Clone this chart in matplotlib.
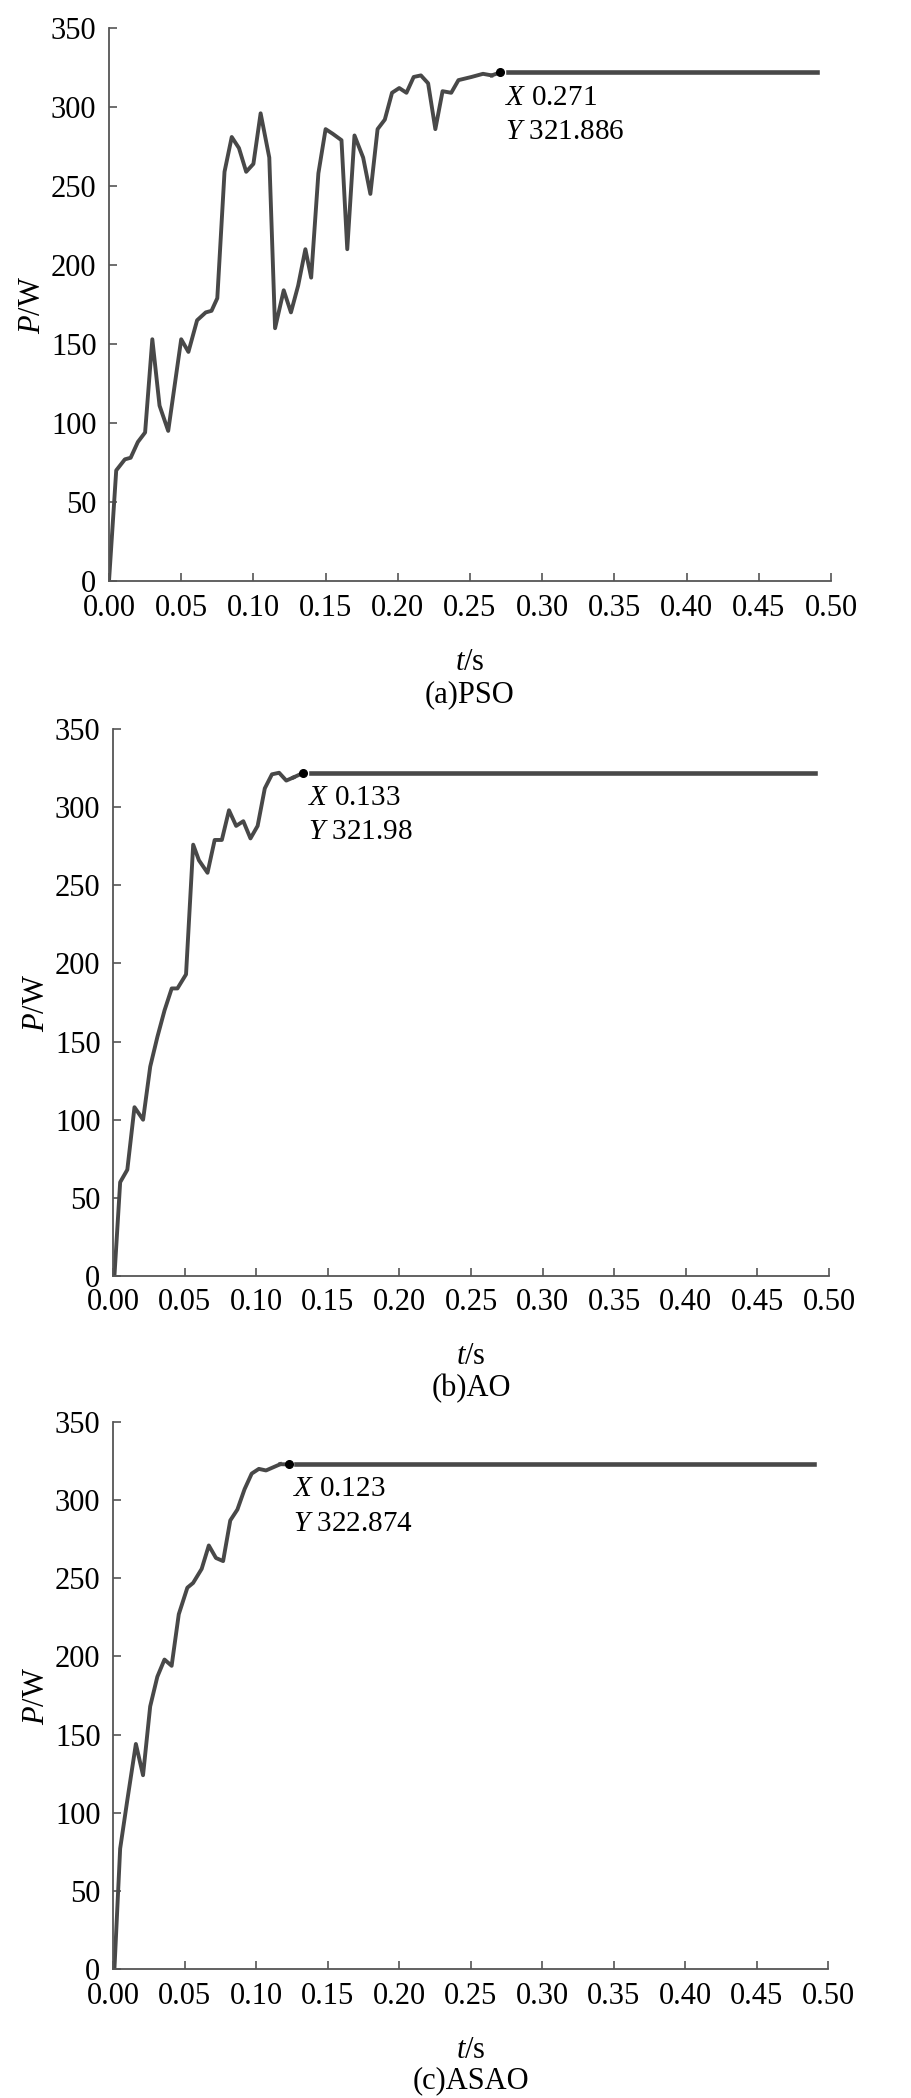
import numpy as np
import matplotlib
matplotlib.use("Agg")
import matplotlib.pyplot as plt

plt.rcParams["font.family"] = "Liberation Serif"
plt.rcParams["mathtext.fontset"] = "custom"
plt.rcParams["mathtext.rm"] = "Liberation Serif"
plt.rcParams["mathtext.it"] = "Liberation Serif:italic"

# PSO
pso_t = [0.0, 0.005, 0.011, 0.015, 0.020, 0.025, 0.030, 0.035, 0.041, 0.050,
         0.055, 0.061, 0.067, 0.071, 0.075, 0.080, 0.085, 0.090, 0.095, 0.100,
         0.105, 0.111, 0.115, 0.121, 0.126, 0.131, 0.136, 0.140, 0.145, 0.150,
         0.155, 0.161, 0.165, 0.170, 0.176, 0.181, 0.186, 0.191, 0.196, 0.201,
         0.206, 0.211, 0.216, 0.221, 0.226, 0.231, 0.237, 0.242, 0.251, 0.259,
         0.265]
pso_p = [0, 70, 77, 78, 88, 94, 153, 111, 95, 153,
         145, 165, 170, 171, 179, 259, 281, 274, 259, 264,
         296, 268, 160, 184, 170, 187, 210, 192, 258, 286,
         283, 279, 210, 282, 268, 245, 286, 292, 309, 312,
         309, 319, 320, 315, 286, 310, 309, 317, 319, 321,
         320]

# AO
ao_t = [0.0, 0.001, 0.005, 0.010, 0.015, 0.021, 0.026, 0.031, 0.036, 0.041,
        0.045, 0.051, 0.056, 0.060, 0.066, 0.071, 0.076, 0.081, 0.086, 0.091,
        0.096, 0.101, 0.106, 0.111, 0.116, 0.121, 0.126]
ao_p = [0, 0, 60, 68, 108, 100, 134, 153, 170, 184,
        184, 193, 276, 266, 258, 279, 279, 298, 288, 291,
        280, 288, 312, 321, 322, 317, 319]

# ASAO
asao_t = [0.0, 0.001, 0.005, 0.010, 0.016, 0.021, 0.026, 0.031, 0.036, 0.041,
          0.046, 0.052, 0.056, 0.062, 0.067, 0.072, 0.077, 0.082, 0.087, 0.092,
          0.097, 0.102, 0.107, 0.112, 0.117]
asao_p = [0, 0, 77, 108, 144, 124, 168, 187, 198, 194,
          227, 244, 247, 256, 271, 263, 261, 287, 294, 307,
          317, 320, 319, 321, 323]

# marked points
mark_x = [0.271, 0.133, 0.123]
mark_y = [321.886, 321.98, 322.874]
mark_txt = [("0.271", "321.886"), ("0.133", "321.98"), ("0.123", "322.874")]
captions = ["(a)PSO", "(b)AO", "(c)ASAO"]
t_end = 0.49

series = [(pso_t, pso_p), (ao_t, ao_p), (asao_t, asao_p)]

W, H = 911, 2098
fig = plt.figure(figsize=(W / 100, H / 100), dpi=100)

# axes boxes in pixels: left, top, right, bottom
boxes = [(109, 28, 831, 581), (113, 729, 829, 1276), (113, 1422, 828, 1969)]

line_c = "#484848"
for i, (t, p) in enumerate(series):
    l, tp, r, b = boxes[i]
    ax = fig.add_axes([l / W, (H - b) / H, (r - l) / W, (b - tp) / H])
    ax.plot(t, p, color=line_c, lw=2.8, solid_joinstyle="round")
    ax.plot([t[-1], mark_x[i]], [p[-1], mark_y[i]], color=line_c, lw=2.8)
    ax.plot([mark_x[i] + 0.005, t_end], [mark_y[i], mark_y[i]], color=line_c, lw=3.3)
    ax.plot(mark_x[i], mark_y[i], "o", color="black", ms=5.5)
    ax.text(mark_x[i] + 0.003, mark_y[i] - 16, "$X$ " + mark_txt[i][0],
            fontsize=21, va="center", ha="left")
    ax.text(mark_x[i] + 0.003, mark_y[i] - 38, "$Y$ " + mark_txt[i][1],
            fontsize=21, va="center", ha="left")

    ax.set_xlim(0, 0.5)
    ax.set_ylim(0, 350)
    ax.set_xticks(np.arange(0, 0.501, 0.05))
    ax.set_xticklabels([f"{v:.2f}" for v in np.arange(0, 0.501, 0.05)])
    ax.set_yticks(np.arange(0, 351, 50))
    for s in ["top", "right"]:
        ax.spines[s].set_visible(False)
    for s in ["left", "bottom"]:
        ax.spines[s].set_color("#555555")
        ax.spines[s].set_linewidth(1.3)
    ax.tick_params(direction="in", length=6, width=1.2, color="#555555",
                   labelsize=22)
    ax.tick_params(axis="x", pad=9)
    ax.tick_params(axis="y", pad=9)
    ax.set_xlabel("$t$/s", fontsize=22, labelpad=18)
    ax.set_ylabel("$P$/W", fontsize=22, labelpad=3)
    ax.text(0.5, -0.205, captions[i], transform=ax.transAxes,
            fontsize=22, ha="center", va="center")

fig.savefig("out.png", dpi=100)
